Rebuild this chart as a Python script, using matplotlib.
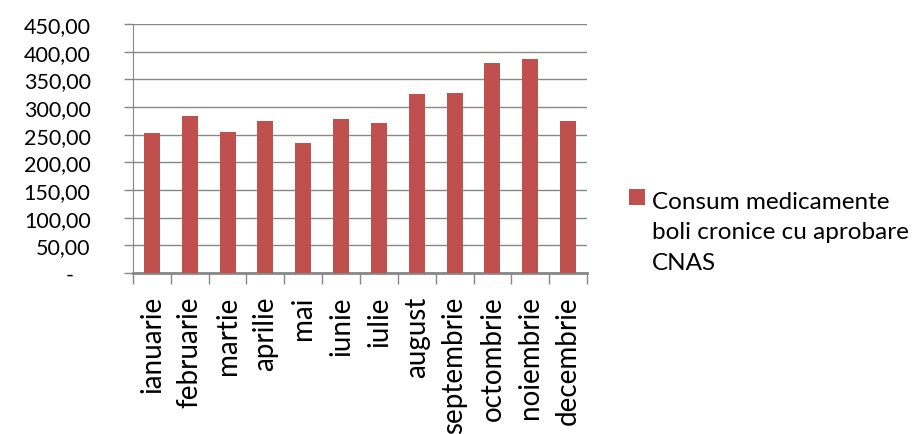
import numpy as np
import matplotlib.pyplot as plt
from matplotlib.ticker import FuncFormatter, FixedLocator

luni = ['ianuarie', 'februarie', 'martie', 'aprilie', 'mai', 'iunie', 'iulie',
        'august', 'septembrie', 'octombrie', 'noiembrie', 'decembrie']
consum = [253, 284, 255, 275, 235, 278, 271, 324, 325, 380, 387, 275]
serie = 'Consum medicamente\nboli cronice cu aprobare\nCNAS'

plt.rcParams['font.family'] = ['Lato', 'DejaVu Sans']
gri = '#878787'

fig = plt.figure(figsize=(9.14, 4.35), dpi=100)
ax = fig.add_axes([133 / 914, 1 - 274 / 435, 454 / 914, 249 / 435])

x = np.arange(len(luni))
ax.bar(x, consum, 0.42, color='#C0504D', zorder=3, label=serie)

ax.set_xlim(-0.5, len(luni) - 0.5)
ax.set_ylim(0, 450)
ax.set_yticks(np.arange(0, 451, 50))
ax.yaxis.set_major_formatter(FuncFormatter(
    lambda v, p: '-   ' if v == 0 else f'{v:.2f}'.replace('.', ',')))
ax.grid(True, axis='y', color=gri, linewidth=1, zorder=0)
ax.tick_params(axis='y', length=6.5, width=1, color=gri, labelsize=15.5, pad=24)

ax.set_xticks(x)
ax.set_xticklabels(luni, rotation=90, fontsize=20, va='top')
ax.tick_params(axis='x', which='major', length=0, pad=16)
ax.xaxis.set_minor_locator(FixedLocator(np.arange(-0.5, len(luni), 1)))
ax.tick_params(axis='x', which='minor', length=8, width=1, color=gri)

for s in ['top', 'right']:
    ax.spines[s].set_visible(False)
ax.spines['left'].set_color(gri)
ax.spines['bottom'].set_color(gri)
ax.spines['bottom'].set_linewidth(2)

leg = fig.legend(loc='center left', bbox_to_anchor=(629 / 914, 1 - 233 / 435),
                 frameon=False, fontsize=17.5, handlelength=0.66, handleheight=0.66,
                 handletextpad=0.29, borderpad=0, borderaxespad=0)
leg.get_texts()[0].set_linespacing(1.55)
h = leg.legend_handles[0]
h.set_y(h.get_y() + 25)

fig.savefig('out.png', dpi=100)
